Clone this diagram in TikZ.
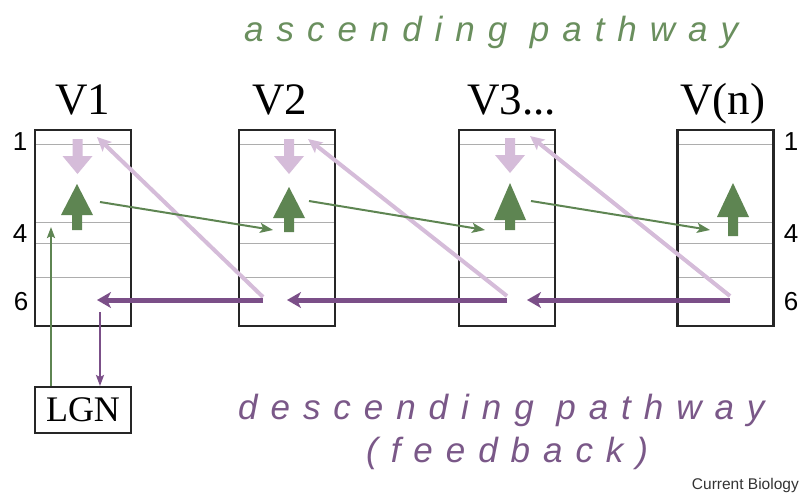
\documentclass[tikz,border=0pt]{standalone}
\usepackage{fontspec}
\setmainfont{Liberation Serif}
\setsansfont{Liberation Sans}
\newfontfamily\pathfont[LetterSpace=37]{Liberation Sans}
\usetikzlibrary{arrows.meta}
\definecolor{grn}{HTML}{5E8552}
\definecolor{grntxt}{HTML}{6A8F5E}
\definecolor{lpur}{HTML}{D5BCD9}
\definecolor{dpur}{HTML}{7B4F88}
\definecolor{purtxt}{HTML}{7A5888}
\definecolor{bord}{HTML}{262626}
\newcommand\greenup[4]{\fill[grn] (#1-5,#2) -- (#1-5,#3) -- (#1-16,#3) -- (#1,#4) -- (#1+16,#3) -- (#1+5,#3) -- (#1+5,#2) -- cycle;}
\newcommand\lilacdown[2]{\fill[lpur] (#1-5,#2) -- (#1-5,#2+17) -- (#1-15,#2+17) -- (#1,#2+35) -- (#1+15,#2+17) -- (#1+5,#2+17) -- (#1+5,#2) -- cycle;}
\begin{document}
\begin{tikzpicture}[x=1pt,y=-1pt,
  layerbox/.style={draw=bord,line width=2.5pt,fill=white,minimum width=96pt,minimum height=196pt,inner sep=0pt,outer sep=0pt},
  layerline/.style={draw=black!32,line width=1pt},
  vlabel/.style={anchor=base west,inner sep=0pt,font=\fontsize{45}{50}\selectfont},
  numlabel/.style={anchor=base,inner sep=0pt,font=\sffamily\fontsize{26}{30}\selectfont},
  thingreen/.style={draw=grn,line width=2pt,-{Stealth[length=13pt,width=10pt,inset=3pt]}},
  lilacline/.style={draw=lpur,line width=4pt,-{Stealth[length=14pt,width=13pt,inset=3pt]}},
  feedline/.style={draw=dpur,line width=5pt,-{Stealth[length=14pt,width=16pt,inset=4pt]}},
  thinv/.style={line width=2pt,-{Stealth[length=11pt,width=8pt,inset=2pt]}},
  pathtext/.style={anchor=base west,inner sep=0pt,font=\pathfont\itshape\fontsize{35}{40}\selectfont}
]
\useasboundingbox (0,0) rectangle (800,493);
% boxes
\node[layerbox] (V1box) at (83,228) {};
\node[layerbox] (V2box) at (287,228) {};
\node[layerbox] (V3box) at (507,228) {};
\node[layerbox] (Vnbox) at (725.5,228) {};
\foreach \cx in {83,287,507,725.5}{
  \foreach \ly in {144,222,243,277}{
    \draw[layerline] (\cx-47,\ly) -- (\cx+47,\ly);
  }
}
\foreach \b in {V1box,V2box,V3box,Vnbox}{\draw[bord,line width=2.5pt] (\b.north west) rectangle (\b.south east);}
% titles
\node[vlabel] (tV1) at (55,114) {V1};
\node[vlabel] (tV2) at (252,114) {V2};
\node[vlabel] (tV3) at (467,114) {V3...};
\node[vlabel] (tVn) at (680,114) {V(n)};
% layer numbers
\node[numlabel] (l1) at (20,150) {1};
\node[numlabel] (l4) at (20,242) {4};
\node[numlabel] (l6) at (21,310) {6};
\node[numlabel] (r1) at (791,150) {1};
\node[numlabel] (r4) at (791,242) {4};
\node[numlabel] (r6) at (791,310) {6};
% block arrows
\lilacdown{77.5}{139}
\lilacdown{289}{139}
\lilacdown{510}{138}
\greenup{77}{230}{215}{184}
\greenup{289}{232}{218}{187}
\greenup{510}{230}{220}{183}
\greenup{733}{236}{217}{183}
% light purple feedback diagonals
\coordinate (d1s) at (263,297); \coordinate (d1e) at (97,137);
\coordinate (d2s) at (507,296); \coordinate (d2e) at (308,139);
\coordinate (d3s) at (730,296); \coordinate (d3e) at (530,136);
\draw[lilacline] (d1s) -- (d1e);
\draw[lilacline] (d2s) -- (d2e);
\draw[lilacline] (d3s) -- (d3e);
% thin green ascending arrows
\coordinate (g1s) at (100,202); \coordinate (g1e) at (273,230);
\coordinate (g2s) at (309,201); \coordinate (g2e) at (485,230);
\coordinate (g3s) at (531,201); \coordinate (g3e) at (710,230);
\draw[thingreen] (g1s) -- (g1e);
\draw[thingreen] (g2s) -- (g2e);
\draw[thingreen] (g3s) -- (g3e);
% dark purple feedback horizontals
\coordinate (h1s) at (263,300); \coordinate (h1e) at (97,300);
\coordinate (h2s) at (507,300); \coordinate (h2e) at (287,300);
\coordinate (h3s) at (730,300); \coordinate (h3e) at (527,300);
\draw[feedline] (h1s) -- (h1e);
\draw[feedline] (h2s) -- (h2e);
\draw[feedline] (h3s) -- (h3e);
% LGN
\node[draw=bord,line width=2pt,minimum width=96pt,minimum height=46pt,inner sep=0pt,font=\fontsize{36}{40}\selectfont] (LGN) at (83,410) {LGN};
\coordinate (lgnin) at (51,227);
\coordinate (v1out) at (100,312);
\draw[thinv,grn] (LGN.north -| lgnin) -- (lgnin);
\draw[thinv,dpur] (v1out) -- (LGN.north -| v1out);
% pathway texts
\node[pathtext,text=grntxt] (asc) at (244,41) {ascending pathway};
\node[pathtext,text=purtxt] (desc) at (238,419) {descending pathway};
\node[pathtext,text=purtxt] (fb) at (366,462) {(feedback)};
\node[anchor=base east,inner sep=0pt,text=black!80,font=\sffamily\fontsize{15.5}{18}\selectfont] (cb) at (799,489) {Current Biology};
\end{tikzpicture}
\end{document}
